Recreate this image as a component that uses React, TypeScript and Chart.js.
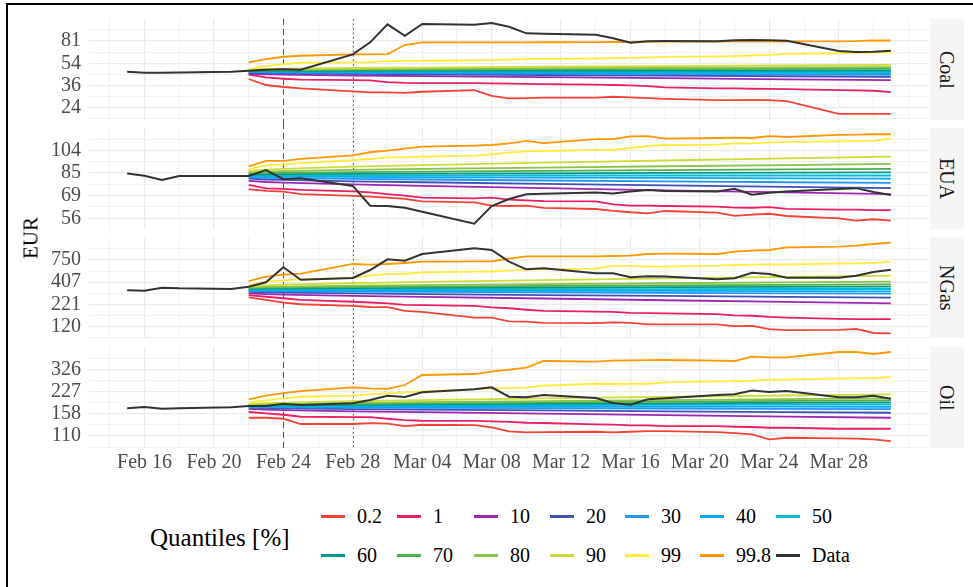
import React, { useEffect, useRef } from "react";
import { Chart, registerables } from "chart.js";

Chart.register(...registerables);

const FONT = '"Liberation Serif", "DejaVu Serif", "Noto Serif", serif';

// ---------- dates ----------
const dataDates = [
  "2022-02-15", "2022-02-16", "2022-02-17", "2022-02-18", "2022-02-21", "2022-02-22", "2022-02-23",
  "2022-02-24", "2022-02-25", "2022-02-28", "2022-03-01", "2022-03-02", "2022-03-03", "2022-03-04",
  "2022-03-07", "2022-03-08", "2022-03-09", "2022-03-10", "2022-03-11", "2022-03-14", "2022-03-15",
  "2022-03-16", "2022-03-17", "2022-03-18", "2022-03-21", "2022-03-22", "2022-03-23", "2022-03-24",
  "2022-03-25", "2022-03-28", "2022-03-29", "2022-03-30", "2022-03-31",
];
const forecastDates = dataDates.slice(5);
const bandDates = [
  "2022-02-22", "2022-02-23", "2022-02-24", "2022-02-28", "2022-03-04",
  "2022-03-11", "2022-03-18", "2022-03-25", "2022-03-31",
];

const xTickDates = [
  "2022-02-16", "2022-02-20", "2022-02-24", "2022-02-28", "2022-03-04", "2022-03-08",
  "2022-03-12", "2022-03-16", "2022-03-20", "2022-03-24", "2022-03-28",
];
const xTickLabels = [
  "Feb 16", "Feb 20", "Feb 24", "Feb 28", "Mar 04", "Mar 08",
  "Mar 12", "Mar 16", "Mar 20", "Mar 24", "Mar 28",
];
const xMinorDates = [
  "2022-02-14", "2022-02-18", "2022-02-22", "2022-02-26", "2022-03-02", "2022-03-06",
  "2022-03-10", "2022-03-14", "2022-03-18", "2022-03-22", "2022-03-26", "2022-03-30", "2022-04-01",
];
const eventDashed = "2022-02-24";
const eventDotted = "2022-02-28";

// ---------- quantiles ----------
const quantileLabels = ["0.2", "1", "10", "20", "30", "40", "50", "60", "70", "80", "90", "99", "99.8"];
const quantileColors = [
  "#F44336", "#E91E63", "#9C27B0", "#3F51B5", "#2196F3", "#03A9F4", "#00BCD4",
  "#009688", "#4CAF50", "#8BC34A", "#CDDC39", "#FFEB3B", "#FF9800",
];
const dataLabel = "Data";
const dataColor = "#333333";

// ---------- Coal ----------
const coalData = [46.2, 45.4, 45.4, 45.7, 46.2, 47.1, 48.0, 48.3, 48.0, 63.5, 79.1, 109.9, 89.2, 110.5, 109.1, 112.5, 105.2, 93.2, 92.6, 90.9, 85.1, 78.5, 80.6, 81.0, 80.6, 82.0, 82.5, 82.0, 81.4, 67.5, 66.3, 66.6, 67.8];
const coalQ998 = [54.9, 58.3, 60.8, 61.9, 63.5, 63.5, 63.8, 75.3, 79.1, 79.1, 79.1, 79.1, 79.1, 79.2, 79.4, 79.6, 79.8, 80.0, 80.0, 80.2, 80.4, 80.5, 80.5, 80.6, 80.6, 80.8, 82.0, 81.8];
const coalQ99 = [48.6, 51.3, 53.2, 54.5, 54.9, 55.2, 56.2, 56.4, 56.5, 56.9, 57.2, 57.6, 58.2, 58.4, 58.9, 59.2, 59.6, 60.1, 60.7, 61.2, 61.6, 62.2, 63.0, 64.0, 64.8, 65.2, 65.6, 65.9];
const coalQ90 = [48.3, 48.7, 48.9, 49.5, 49.9, 50.7, 51.3, 52.0, 52.5];
const coalQ80 = [47.8, 48.0, 48.2, 48.5, 48.8, 49.3, 49.7, 50.1, 50.4];
const coalQ70 = [47.4, 47.5, 47.6, 47.8, 48.0, 48.3, 48.5, 48.8, 49.0];
const coalQ60 = [47.0, 47.0, 47.1, 47.1, 47.2, 47.2, 47.3, 47.3, 47.4];
const coalQ50 = [46.7, 46.7, 46.6, 46.6, 46.5, 46.4, 46.3, 46.3, 46.2];
const coalQ40 = [46.3, 46.2, 46.1, 46.0, 45.8, 45.6, 45.4, 45.3, 45.1];
const coalQ30 = [45.9, 45.7, 45.6, 45.3, 45.1, 44.7, 44.4, 44.1, 43.8];
const coalQ20 = [45.4, 45.1, 45.0, 44.5, 44.2, 43.6, 43.1, 42.6, 42.2];
const coalQ10 = [44.6, 44.2, 43.9, 43.2, 42.7, 41.9, 41.1, 40.3, 39.7];
const coalQ1 = [43.8, 41.7, 40.7, 40.0, 39.7, 39.5, 38.3, 37.8, 37.6, 37.6, 37.4, 37.2, 37.0, 36.9, 36.5, 36.3, 36.1, 35.6, 34.8, 34.1, 34.1, 33.9, 33.8, 33.7, 33.1, 32.9, 32.7, 31.9];
const coalQ02 = [40.5, 36.3, 35.0, 34.1, 32.3, 31.7, 31.7, 31.5, 32.1, 33.1, 29.8, 28.4, 28.6, 28.8, 28.8, 29.3, 29.0, 28.6, 28.2, 27.6, 27.6, 27.7, 27.6, 27.1, 21.4, 21.4, 21.4, 21.4];
const coalTicks = [24, 36, 54, 81];
const coalMinor = [19.6, 29.4, 44.1, 66.1, 99.2];

// ---------- EUA ----------
const euaData = [84.5, 82.8, 79.6, 82.6, 82.6, 82.6, 87.2, 80.2, 80.9, 75.4, 62.9, 62.7, 61.7, 59.5, 53.3, 62.7, 66.9, 69.9, 70.2, 71.0, 70.4, 71.6, 72.6, 72.0, 71.6, 73.4, 69.6, 70.8, 71.6, 73.3, 73.9, 71.3, 69.4];
const euaQ998 = [90.2, 94.9, 94.9, 96.8, 99.9, 102.8, 104.3, 106.2, 108.2, 109.2, 109.9, 111.6, 114.2, 111.9, 116.1, 116.1, 119.0, 119.3, 116.6, 117.2, 117.6, 117.2, 119.3, 118.3, 120.6, 120.9, 121.3, 121.3];
const euaQ99 = [88.1, 91.1, 92.0, 93.1, 95.5, 96.6, 98.1, 98.0, 98.7, 99.6, 100.9, 102.4, 103.7, 104.0, 105.0, 105.2, 106.9, 108.9, 109.9, 110.2, 111.6, 111.6, 112.6, 112.9, 113.6, 113.9, 114.2, 116.4];
const euaQ90 = [86.6, 87.7, 88.3, 90.0, 91.3, 93.4, 95.3, 97.1, 98.7];
const euaQ80 = [85.5, 86.1, 86.5, 87.4, 88.2, 89.3, 90.4, 91.4, 92.3];
const euaQ70 = [84.6, 84.9, 85.1, 85.6, 86.0, 86.7, 87.3, 87.8, 88.3];
const euaQ60 = [83.8, 83.9, 84.0, 84.2, 84.4, 84.7, 85.0, 85.2, 85.4];
const euaQ50 = [83.1, 83.1, 83.1, 83.1, 83.1, 83.0, 83.0, 83.0, 83.0];
const euaQ40 = [82.4, 82.2, 82.2, 81.9, 81.7, 81.4, 81.2, 80.9, 80.7];
const euaQ30 = [81.6, 81.2, 81.0, 80.5, 80.0, 79.3, 78.6, 78.0, 77.5];
const euaQ20 = [80.6, 80.0, 79.7, 78.7, 78.0, 76.8, 75.8, 74.8, 73.9];
const euaQ10 = [79.0, 78.2, 77.7, 76.5, 75.5, 73.9, 72.4, 71.1, 69.9];
const euaQ1 = [76.1, 73.8, 73.4, 72.7, 71.8, 71.1, 69.9, 69.0, 67.7, 67.3, 67.7, 66.5, 66.0, 65.6, 65.4, 63.7, 62.9, 62.9, 62.7, 62.4, 61.8, 61.7, 62.1, 61.1, 60.7, 60.7, 60.4, 60.4];
const euaQ02 = [73.3, 72.0, 71.6, 69.9, 68.8, 68.4, 67.7, 66.9, 65.4, 64.8, 62.9, 62.7, 62.9, 61.6, 61.0, 59.9, 59.2, 58.6, 59.9, 59.0, 57.3, 57.9, 58.4, 57.2, 56.0, 54.8, 55.5, 54.8];
const euaTicks = [56, 69, 85, 104];
const euaMinor = [62.2, 76.6, 94.0, 115.4];

// ---------- NGas ----------
const ngasData = [325, 321, 349, 343, 337, 359, 405, 613, 435, 456, 569, 765, 736, 885, 1036, 988, 716, 580, 596, 520, 520, 465, 478, 477, 440, 453, 528, 510, 460, 460, 486, 539, 574];
const ngasQ998 = [420, 473, 500, 514, 672, 659, 672, 690, 716, 724, 724, 777, 831, 831, 831, 838, 845, 885, 892, 885, 943, 969, 988, 1065, 1083, 1113, 1166, 1209];
const ngasQ99 = [376, 412, 428, 440, 460, 486, 510, 513, 534, 543, 546, 564, 574, 578, 590, 636, 636, 623, 626, 641, 653, 660, 666, 666, 677, 684, 690, 716];
const ngasQ90 = [362, 373, 379, 397, 410, 431, 451, 470, 486];
const ngasQ80 = [352, 357, 360, 369, 375, 386, 395, 404, 412];
const ngasQ70 = [346, 349, 351, 356, 360, 367, 373, 378, 383];
const ngasQ60 = [340, 342, 343, 345, 347, 351, 354, 357, 359];
const ngasQ50 = [334, 334, 334, 335, 335, 336, 336, 337, 337];
const ngasQ40 = [328, 327, 326, 325, 323, 321, 319, 318, 316];
const ngasQ30 = [320, 318, 317, 313, 311, 307, 303, 299, 296];
const ngasQ20 = [311, 307, 305, 298, 293, 285, 278, 271, 265];
const ngasQ10 = [299, 293, 289, 279, 271, 259, 247, 236, 227];
const ngasQ1 = [285, 272, 261, 249, 237, 232, 227, 217, 216, 211, 203, 198, 190, 184, 180, 179, 174, 173, 172, 168, 163, 161, 156, 153, 148, 147, 147, 147];
const ngasQ02 = [268, 249, 231, 221, 211, 205, 204, 184, 179, 153, 153, 138, 137, 132, 131, 134, 132, 127, 127, 127, 121, 122, 111, 108, 109, 112, 100, 99];
const ngasTicks = [120, 221, 407, 750];
const ngasMinor = [88.4, 162.8, 299.9, 552.5, 1018];

// ---------- Oil ----------
const oilData = [173.2, 176.8, 172.3, 173.2, 176.0, 179.8, 179.8, 186.3, 183.2, 188.4, 198.4, 212.8, 208.5, 225.1, 236.5, 244.3, 209.6, 207.5, 215.3, 205.0, 189.2, 184.0, 200.6, 203.9, 215.0, 217.8, 231.6, 226.2, 229.9, 207.5, 207.5, 212.8, 202.6];
const oilQ998 = [200.7, 212.9, 222.5, 229.9, 244.3, 240.3, 238.6, 253.7, 298.9, 303.8, 315.5, 326.0, 336.9, 376.0, 371.7, 377.8, 380.3, 381.0, 382.2, 377.8, 376.0, 403.4, 399.5, 399.5, 435.8, 435.8, 421.7, 435.8];
const oilQ99 = [191.0, 197.4, 204.0, 209.4, 212.9, 217.8, 221.0, 225.1, 228.8, 236.4, 240.3, 241.5, 242.7, 250.8, 259.1, 258.0, 258.5, 259.1, 265.2, 269.5, 270.2, 270.9, 276.7, 277.5, 283.1, 283.1, 284.6, 289.2];
const oilQ90 = [185.8, 188.7, 190.3, 194.8, 198.3, 203.7, 208.8, 213.6, 217.8];
const oilQ80 = [183.5, 185.3, 186.4, 189.2, 191.5, 195.0, 198.3, 201.3, 204.0];
const oilQ70 = [182.0, 183.4, 184.2, 186.3, 188.0, 190.6, 193.1, 195.4, 197.4];
const oilQ60 = [180.7, 181.6, 182.1, 183.6, 184.7, 186.5, 188.1, 189.7, 191.0];
const oilQ50 = [179.5, 180.0, 180.3, 181.0, 181.6, 182.5, 183.4, 184.2, 184.9];
const oilQ40 = [178.2, 178.2, 178.1, 178.1, 178.0, 177.9, 177.8, 177.8, 177.7];
const oilQ30 = [176.8, 176.3, 176.0, 175.2, 174.6, 173.6, 172.7, 171.8, 171.1];
const oilQ20 = [175.0, 173.7, 173.1, 171.1, 169.6, 167.2, 165.0, 162.9, 161.1];
const oilQ10 = [171.5, 169.4, 168.3, 165.0, 162.5, 158.6, 154.9, 151.4, 148.4];
const oilQ1 = [163.0, 159.5, 155.9, 150.9, 150.1, 150.1, 146.0, 142.5, 141.3, 141.0, 139.9, 138.8, 136.7, 136.2, 133.2, 132.5, 131.0, 131.0, 129.5, 129.2, 128.0, 127.5, 126.0, 126.0, 123.9, 123.9, 123.9, 123.9];
const oilQ02 = [148.4, 148.4, 146.0, 133.9, 133.9, 136.1, 134.8, 129.5, 132.3, 131.5, 126.8, 118.8, 116.8, 117.4, 118.0, 116.8, 118.0, 119.3, 119.3, 117.4, 115.5, 113.1, 104.2, 106.9, 105.9, 105.3, 104.2, 101.3];
const oilTicks = [110, 158, 227, 326];
const oilMinor = [91.8, 131.8, 189.4, 272.0, 390.7];

// ---------- panels ----------
type PanelCfg = {
  name: string;
  data: number[];
  quant: number[][];
  min: number;
  max: number;
  ticks: number[];
  minor: number[];
};

const panels: PanelCfg[] = [
  {
    name: "Coal", data: coalData,
    quant: [coalQ02, coalQ1, coalQ10, coalQ20, coalQ30, coalQ40, coalQ50, coalQ60, coalQ70, coalQ80, coalQ90, coalQ99, coalQ998],
    min: 19.17, max: 121.1, ticks: coalTicks, minor: coalMinor,
  },
  {
    name: "EUA", data: euaData,
    quant: [euaQ02, euaQ1, euaQ10, euaQ20, euaQ30, euaQ40, euaQ50, euaQ60, euaQ70, euaQ80, euaQ90, euaQ99, euaQ998],
    min: 50.75, max: 128.5, ticks: euaTicks, minor: euaMinor,
  },
  {
    name: "NGas", data: ngasData,
    quant: [ngasQ02, ngasQ1, ngasQ10, ngasQ20, ngasQ30, ngasQ40, ngasQ50, ngasQ60, ngasQ70, ngasQ80, ngasQ90, ngasQ99, ngasQ998],
    min: 87.1, max: 1415, ticks: ngasTicks, minor: ngasMinor,
  },
  {
    name: "Oil", data: oilData,
    quant: [oilQ02, oilQ1, oilQ10, oilQ20, oilQ30, oilQ40, oilQ50, oilQ60, oilQ70, oilQ80, oilQ90, oilQ99, oilQ998],
    min: 90.4, max: 473, ticks: oilTicks, minor: oilMinor,
  },
];

// ---------- layout ----------
const PANEL_TOPS = [19, 128, 237, 347];
const PANEL_H = 101;
const PLOT_LEFT = 89;
const PLOT_RIGHT = 929;
const PAD = 26;
const X_AXIS_H = 30;
const X_MIN = -1.2;
const X_MAX = 47.2;

function dayNum(s: string): number {
  const [y, m, d] = s.split("-").map(Number);
  return (Date.UTC(y, m - 1, d) - Date.UTC(2022, 1, 14)) / 86400000;
}

const xMajorDays = xTickDates.map(dayNum);
const xAllDays = [...xMinorDates, ...xTickDates].map(dayNum).sort((a, b) => a - b);

function Panel({ cfg, index }: { cfg: PanelCfg; index: number }) {
  const ref = useRef<HTMLCanvasElement>(null);
  const isLast = index === panels.length - 1;
  const isFirst = index === 0;
  const height = isLast ? PANEL_H + PAD + X_AXIS_H : PANEL_H + 2 * PAD;

  useEffect(() => {
    const canvas = ref.current;
    if (!canvas) return;
    const datasets: any[] = [];
    datasets.push({
      label: dataLabel,
      data: dataDates.map((d, i) => ({ x: dayNum(d), y: cfg.data[i] })),
      borderColor: dataColor,
      borderWidth: 2,
      pointRadius: 0,
      tension: 0,
      order: 0,
    });
    cfg.quant.forEach((arr, qi) => {
      const dates = arr.length === bandDates.length ? bandDates : forecastDates;
      datasets.push({
        label: quantileLabels[qi],
        data: dates.map((d, i) => ({ x: dayNum(d), y: arr[i] })),
        borderColor: quantileColors[qi],
        borderWidth: 1.8,
        pointRadius: 0,
        tension: 0,
        order: quantileLabels.length - qi,
      });
    });

    const yTickVals = [...cfg.ticks, ...cfg.minor]
      .filter((v) => v >= cfg.min && v <= cfg.max)
      .sort((a, b) => a - b);

    const eventPlugin = {
      id: "eventLines",
      beforeDatasetsDraw(chart: any) {
        const { ctx, chartArea, scales } = chart;
        const top = chartArea.top - (isFirst ? 0 : 5);
        const bottom = chartArea.bottom + (isLast ? 0 : 5);
        const draw = (date: string, dash: number[]) => {
          const x = Math.round(scales.x.getPixelForValue(dayNum(date))) + 0.5;
          ctx.save();
          ctx.beginPath();
          ctx.setLineDash(dash);
          ctx.strokeStyle = "#555555";
          ctx.lineWidth = 1;
          ctx.moveTo(x, top);
          ctx.lineTo(x, bottom);
          ctx.stroke();
          ctx.restore();
        };
        draw(eventDashed, [6, 4]);
        draw(eventDotted, [1.5, 3]);
      },
    };

    const chart = new Chart(canvas, {
      type: "line",
      data: { datasets },
      plugins: [eventPlugin],
      options: {
        animation: false,
        responsive: false,
        maintainAspectRatio: false,
        events: [],
        layout: { padding: { top: PAD, bottom: isLast ? 0 : PAD, left: 0, right: 0 } },
        plugins: { legend: { display: false }, tooltip: { enabled: false } },
        scales: {
          x: {
            type: "linear",
            min: X_MIN,
            max: X_MAX,
            afterBuildTicks: (axis: any) => {
              axis.ticks = xAllDays.map((v) => ({ value: v }));
            },
            afterFit: (axis: any) => {
              axis.height = isLast ? X_AXIS_H : 0;
            },
            grid: {
              drawTicks: false,
              color: "#EBEBEB",
              lineWidth: (c: any) => (c.tick && xMajorDays.includes(c.tick.value) ? 1.2 : 0.7),
            },
            border: { display: false },
            ticks: {
              display: isLast,
              autoSkip: false,
              maxRotation: 0,
              minRotation: 0,
              padding: 3,
              color: "#4D4D4D",
              font: { family: FONT, size: 20 },
              callback: (v: any) => {
                const i = xMajorDays.indexOf(Number(v));
                return i >= 0 ? xTickLabels[i] : "";
              },
            },
          },
          y: {
            type: "logarithmic",
            min: cfg.min,
            max: cfg.max,
            afterBuildTicks: (axis: any) => {
              axis.ticks = yTickVals.map((v) => ({ value: v }));
            },
            afterFit: (axis: any) => {
              axis.width = PLOT_LEFT;
            },
            grid: {
              drawTicks: false,
              color: "#EBEBEB",
              lineWidth: (c: any) => (c.tick && cfg.ticks.includes(c.tick.value) ? 1.2 : 0.7),
            },
            border: { display: false },
            ticks: {
              autoSkip: false,
              padding: 8,
              color: "#4D4D4D",
              font: { family: FONT, size: 20 },
              callback: (v: any) => (cfg.ticks.includes(Number(v)) ? String(v) : ""),
            },
          },
        },
      } as any,
    });
    return () => chart.destroy();
  }, []);

  return (
    <canvas
      ref={ref}
      width={PLOT_RIGHT}
      height={height}
      style={{
        position: "absolute",
        left: 0,
        top: PANEL_TOPS[index] - PAD,
        width: PLOT_RIGHT,
        height,
      }}
    />
  );
}

const legendRows = [
  [0, 1, 2, 3, 4, 5, 6],
  [7, 8, 9, 10, 11, 12, -1],
];
const legendColX = [321, 397, 474, 550, 625, 700, 776];
const legendRowY = [516, 555];

export default function App() {
  return (
    <div
      style={{
        position: "fixed",
        left: 0,
        top: 0,
        width: 973,
        height: 587,
        overflow: "hidden",
        background: "#ffffff",
        fontFamily: FONT,
      }}
    >
      <div
        style={{
          position: "absolute",
          left: 6,
          top: 3,
          width: 2000,
          height: 2000,
          borderLeft: "2px solid #000",
          borderTop: "2px solid #000",
        }}
      />
      {panels.map((p, i) => (
        <Panel key={p.name} cfg={p} index={i} />
      ))}
      {panels.map((p, i) => (
        <div
          key={"strip" + p.name}
          style={{
            position: "absolute",
            left: 930,
            top: PANEL_TOPS[i],
            width: 34,
            height: PANEL_H,
            background: "#F5F5F5",
            display: "flex",
            alignItems: "center",
            justifyContent: "center",
          }}
        >
          <span style={{ writingMode: "vertical-rl", fontSize: 20, color: "#1A1A1A", lineHeight: 1, fontFamily: FONT }}>
            {p.name}
          </span>
        </div>
      ))}
      <div
        style={{
          position: "absolute",
          left: 31,
          top: 238,
          transform: "translate(-50%, -50%) rotate(-90deg)",
          fontSize: 21,
          color: "#000",
          whiteSpace: "nowrap",
          lineHeight: 1,
          fontFamily: FONT,
        }}
      >
        EUR
      </div>
      <div
        style={{
          position: "absolute",
          left: 150,
          top: 537,
          transform: "translateY(-50%)",
          fontSize: 25,
          color: "#000",
          whiteSpace: "nowrap",
          lineHeight: 1,
          fontFamily: FONT,
        }}
      >
        Quantiles [%]
      </div>
      {legendRows.map((row, ri) =>
        row.map((qi, ci) => {
          const label = qi >= 0 ? quantileLabels[qi] : dataLabel;
          const color = qi >= 0 ? quantileColors[qi] : dataColor;
          return (
            <div
              key={"leg" + ri + "-" + ci}
              style={{
                position: "absolute",
                left: legendColX[ci],
                top: legendRowY[ri],
                transform: "translateY(-50%)",
                display: "flex",
                alignItems: "center",
                whiteSpace: "nowrap",
              }}
            >
              <div style={{ width: 24, height: 3, background: color }} />
              <span style={{ marginLeft: 12, fontSize: 20, color: "#000", lineHeight: 1, fontFamily: FONT }}>{label}</span>
            </div>
          );
        })
      )}
    </div>
  );
}
